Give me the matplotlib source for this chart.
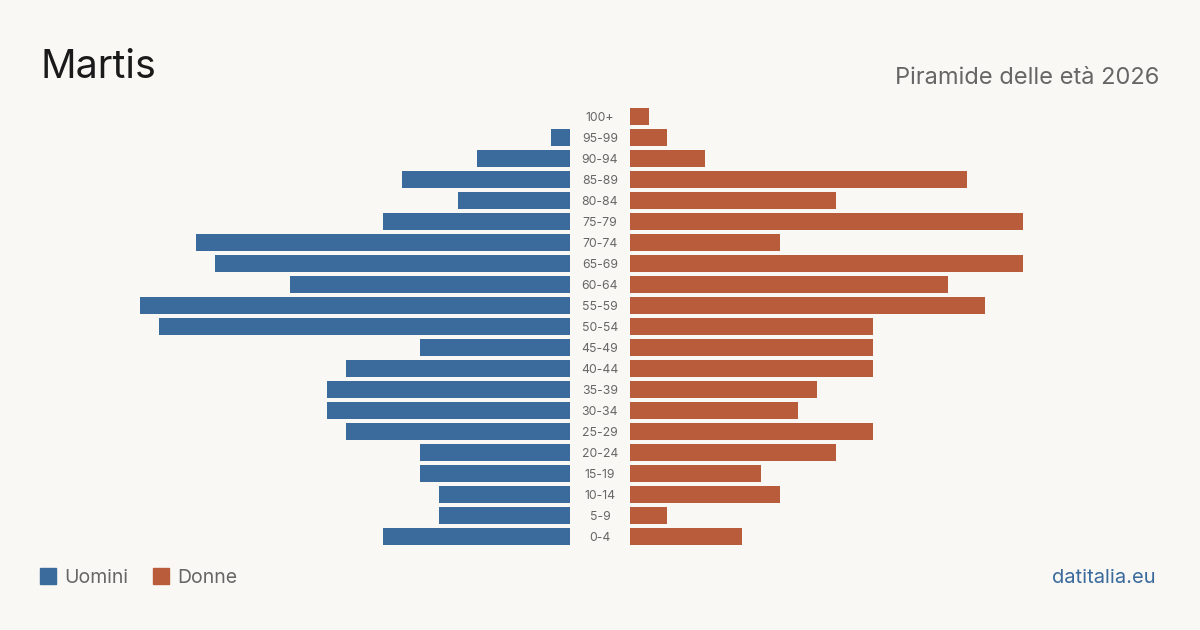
import matplotlib.pyplot as plt
import numpy as np

plt.rcParams['font.family'] = ['Inter', 'DejaVu Sans']

age_groups = ['0-4', '5-9', '10-14', '15-19', '20-24', '25-29', '30-34', '35-39',
              '40-44', '45-49', '50-54', '55-59', '60-64', '65-69', '70-74', '75-79',
              '80-84', '85-89', '90-94', '95-99', '100+']
men = [10, 7, 7, 8, 8, 12, 13, 13, 12, 8, 22, 23, 15, 19, 20, 10, 6, 9, 5, 1, 0]
women = [6, 2, 8, 7, 11, 13, 9, 10, 13, 13, 13, 19, 17, 21, 8, 21, 11, 18, 4, 2, 1]

blue = '#3a6b9c'
orange = '#b95c3c'
bg = '#f9f8f4'
grey = '#666666'

fig = plt.figure(figsize=(12, 6.3), dpi=100)
fig.patch.set_facecolor(bg)

y = np.arange(len(age_groups))
vmax = max(max(men), max(women))

ax_l = fig.add_axes([140 / 1200, 0.1325, 430 / 1200, 0.7])
ax_r = fig.add_axes([630 / 1200, 0.1325, 430 / 1200, 0.7])

ax_l.barh(y, men, height=0.81, color=blue)
ax_r.barh(y, women, height=0.81, color=orange)
ax_l.set_xlim(vmax, 0)
ax_r.set_xlim(0, vmax)

for ax in (ax_l, ax_r):
    ax.set_ylim(-0.5, len(age_groups) - 0.5)
    ax.set_facecolor('none')
    ax.axis('off')

# age labels in the gap between the two halves (30 px left of the right axis)
for i, lab in enumerate(age_groups):
    ax_r.annotate(lab, xy=(0, i), xytext=(-21.6, -1.3), textcoords='offset points',
                  xycoords='data', ha='center', va='center', fontsize=8.8, color=grey)

fig.text(40 / 1200, 1 - 68 / 630, 'Martis', fontsize=28.3, color='#1a1a1a', va='center', ha='left')
fig.text(1159 / 1200, 1 - 78.5 / 630, 'Piramide delle età 2026', fontsize=17, color=grey,
         va='center', ha='right')

# legend
fig.patches.append(plt.Rectangle((40 / 1200, 1 - 584 / 630), 16 / 1200, 16 / 630,
                                 transform=fig.transFigure, color=blue))
fig.text(64 / 1200, 1 - 578 / 630, 'Uomini', fontsize=14, color=grey, va='center', ha='left')
fig.patches.append(plt.Rectangle((153 / 1200, 1 - 584 / 630), 16 / 1200, 16 / 630,
                                 transform=fig.transFigure, color=orange))
fig.text(177 / 1200, 1 - 578 / 630, 'Donne', fontsize=14, color=grey, va='center', ha='left')

fig.text(1156 / 1200, 1 - 578 / 630, 'datitalia.eu', fontsize=14.5, color=blue,
         va='center', ha='right')

fig.savefig('out.png', dpi=100, facecolor=bg)
